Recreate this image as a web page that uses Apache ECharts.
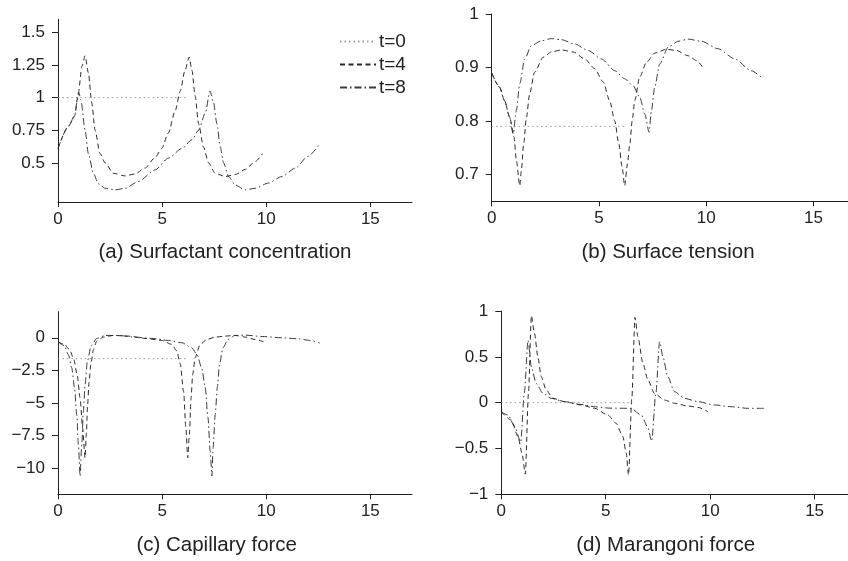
<!DOCTYPE html>
<html>
<head>
<meta charset="utf-8">
<script src="https://cdn.jsdelivr.net/npm/echarts@6/dist/echarts.min.js"></script>
<style>
  html, body { margin: 0; padding: 0; background: #fff; }
  #chart { width: 848px; height: 561px; }
</style>
</head>
<body>
<div id="chart"></div>
<script>
// Series names (time levels)
const seriesNames = ['t=0', 't=4', 't=8'];

// (a) Surfactant concentration  [x, value]
const concT0 = [[0, 1], [6.28, 1]];
const concT4 = [[0,0.61],[0.5,0.78],[0.8,0.86],[0.98,1.04],[1.15,1.24],[1.3,1.32],[1.46,1.19],[1.62,0.96],[1.78,0.75],[2.02,0.57],[2.26,0.5],[2.66,0.42],[3.22,0.4],[3.7,0.415],[4.18,0.46],[4.66,0.54],[4.98,0.61],[5.3,0.73],[5.63,0.9],[5.87,1.05],[6.1,1.21],[6.3,1.31],[6.43,1.21],[6.59,1.01],[6.75,0.8],[6.99,0.62],[7.23,0.5],[7.55,0.42],[8.03,0.395],[8.5,0.41],[9.0,0.45],[9.47,0.51],[9.82,0.57]];
const concT8 = [[0,0.61],[0.5,0.78],[0.8,0.86],[0.92,0.97],[1.0,1.04],[1.1,0.98],[1.3,0.75],[1.46,0.57],[1.7,0.42],[1.94,0.34],[2.26,0.305],[2.74,0.293],[3.22,0.305],[3.86,0.357],[4.66,0.446],[5.3,0.536],[5.95,0.61],[6.43,0.676],[6.75,0.75],[7.07,0.88],[7.3,1.05],[7.47,0.96],[7.63,0.8],[7.79,0.625],[7.95,0.5],[8.19,0.395],[8.51,0.33],[8.99,0.293],[9.47,0.305],[10.1,0.345],[10.75,0.395],[11.4,0.46],[12.0,0.55],[12.57,0.645]];

// (b) Surface tension
const tensT0 = [[0, 0.79], [6.28, 0.79]];
const tensT4 = [[0,0.89],[0.37,0.863],[0.6,0.838],[0.84,0.807],[1.04,0.77],[1.15,0.726],[1.31,0.679],[1.38,0.707],[1.49,0.757],[1.62,0.807],[1.77,0.851],[2.0,0.891],[2.4,0.919],[2.78,0.929],[3.25,0.933],[3.8,0.929],[4.34,0.916],[4.8,0.898],[5.2,0.873],[5.5,0.838],[5.74,0.8],[5.93,0.757],[6.08,0.714],[6.2,0.679],[6.33,0.72],[6.44,0.757],[6.55,0.8],[6.67,0.838],[6.9,0.882],[7.22,0.91],[7.6,0.927],[8.15,0.934],[8.6,0.932],[9.16,0.922],[9.55,0.913],[9.86,0.899]];
const tensT8 = [[0,0.89],[0.37,0.863],[0.6,0.838],[0.84,0.807],[1.0,0.776],[1.15,0.82],[1.31,0.87],[1.54,0.916],[1.85,0.941],[2.32,0.95],[2.78,0.954],[3.25,0.952],[3.87,0.944],[4.49,0.932],[5.12,0.916],[5.74,0.894],[6.2,0.879],[6.59,0.866],[6.9,0.845],[7.14,0.813],[7.34,0.779],[7.45,0.82],[7.6,0.863],[7.84,0.907],[8.23,0.938],[8.69,0.949],[9.16,0.953],[9.78,0.949],[10.56,0.935],[11.34,0.916],[12.1,0.894],[12.57,0.882]];

// (c) Capillary force
const capT0 = [[0, -1.6], [6.28, -1.6]];
const capT4 = [[0,-0.3],[0.3,-0.5],[0.55,-0.9],[0.75,-1.6],[0.92,-2.8],[1.06,-4.6],[1.18,-6.9],[1.3,-9.2],[1.36,-7.4],[1.42,-5.2],[1.49,-3.4],[1.58,-2.0],[1.7,-0.9],[1.86,-0.26],[2.18,0.05],[2.66,0.18],[3.38,0.13],[4.18,-0.05],[4.98,-0.2],[5.46,-0.5],[5.7,-1.0],[5.87,-2.0],[6.03,-4.1],[6.14,-6.9],[6.23,-9.2],[6.31,-7.4],[6.39,-4.6],[6.47,-2.8],[6.59,-1.5],[6.83,-0.5],[7.15,-0.13],[7.55,0.05],[8.03,0.13],[8.5,0.18],[9.0,0.05],[9.47,-0.13],[9.87,-0.3]];
const capT8 = [[0,-0.3],[0.3,-0.6],[0.5,-1.3],[0.66,-2.3],[0.79,-3.8],[0.9,-5.9],[0.98,-8.2],[1.06,-10.6],[1.14,-8.2],[1.22,-5.6],[1.3,-3.6],[1.41,-1.8],[1.59,-0.64],[1.86,-0.05],[2.26,0.18],[2.9,0.18],[3.7,0.05],[4.5,-0.05],[5.3,-0.2],[5.95,-0.38],[6.43,-0.77],[6.67,-1.28],[6.9,-2.3],[7.07,-3.8],[7.2,-6.1],[7.31,-8.7],[7.39,-10.6],[7.45,-8.4],[7.55,-5.9],[7.65,-3.8],[7.76,-2.0],[7.92,-0.77],[8.16,-0.13],[8.5,0.18],[9.0,0.2],[9.8,0.1],[10.75,0],[11.55,-0.08],[12.1,-0.2],[12.57,-0.4]];

// (d) Marangoni force
const marT0 = [[0, 0], [6.28, 0]];
const marT4 = [[0,-0.1],[0.48,-0.19],[0.8,-0.37],[0.99,-0.55],[1.15,-0.78],[1.3,0.1],[1.44,0.95],[1.59,0.756],[1.75,0.5],[1.91,0.284],[2.15,0.138],[2.47,0.047],[3.03,0.011],[3.83,-0.025],[4.47,-0.062],[5.1,-0.135],[5.5,-0.225],[5.82,-0.37],[5.98,-0.55],[6.09,-0.79],[6.25,0.05],[6.4,0.93],[6.54,0.72],[6.78,0.43],[7.02,0.247],[7.34,0.1],[7.81,0.029],[8.29,-0.007],[8.93,-0.036],[9.41,-0.051],[9.9,-0.1]];
const marT8 = [[0,-0.1],[0.32,-0.135],[0.64,-0.26],[0.93,-0.43],[1.1,0.1],[1.28,0.68],[1.44,0.39],[1.67,0.21],[2.0,0.1],[2.39,0.047],[3.03,0.011],[3.8,-0.02],[4.5,-0.045],[5.2,-0.06],[6.2,-0.062],[6.7,-0.135],[7.0,-0.26],[7.2,-0.42],[7.4,0.1],[7.58,0.665],[7.74,0.5],[7.97,0.284],[8.29,0.12],[8.77,0.047],[9.41,0.011],[10.2,-0.025],[11.0,-0.044],[11.8,-0.062],[12.57,-0.062]];

// Tick positions
const xTicks = [0, 5, 10, 15];
const concTicks = [0.5, 0.75, 1, 1.25, 1.5];
const tensTicks = [0.7, 0.8, 0.9, 1];
const capTicks = [-10, -7.5, -5, -2.5, 0];
const marTicks = [-1, -0.5, 0, 0.5, 1];

// Panel captions
const captions = ['(a) Surfactant concentration', '(b) Surface tension', '(c) Capillary force', '(d) Marangoni force'];

const FONT = '"Liberation Sans", Arial, Helvetica, sans-serif';
const INK = '#222';

const lineStyles = [
  { color: '#9a9a9a', width: 1, type: [1.5, 3] },
  { color: '#2a2a2a', width: 1, type: [5, 3.5] },
  { color: '#3a3a3a', width: 1, type: [7, 3, 1.5, 3] }
];

const grids = [
  { left: 58, top: 19.3, width: 354, height: 182.7 },
  { left: 491.7, top: 14, width: 356, height: 187.3 },
  { left: 58, top: 311.7, width: 354, height: 182.6 },
  { left: 501.3, top: 311, width: 346.7, height: 183.3 }
];

const yRanges = [
  { min: 0.2, max: 1.6, ticks: concTicks },
  { min: 0.65, max: 1.0, ticks: tensTicks },
  { min: -12, max: 2, ticks: capTicks },
  { min: -1, max: 1, ticks: marTicks }
];
const xMax = [17, 16.6, 17, 16.6];

const panelData = [
  [concT0, concT4, concT8],
  [tensT0, tensT4, tensT8],
  [capT0, capT4, capT8],
  [marT0, marT4, marT8]
];

const fmt = v => String(v).replace('-', '\u2212');

const lineAxis = { show: true, onZero: false, lineStyle: { color: INK, width: 1 } };
const tickBase = { show: true, inside: false, lineStyle: { color: INK, width: 1 } };
const labelBase = { color: INK, fontSize: 17, fontFamily: FONT, formatter: fmt };

const xAxes = grids.map((g, i) => ({
  type: 'value', gridIndex: i, min: 0, max: xMax[i],
  axisLine: lineAxis,
  axisTick: Object.assign({}, tickBase, { length: 5, customValues: xTicks }),
  splitLine: { show: false },
  axisLabel: Object.assign({}, labelBase, { margin: 9, customValues: xTicks })
}));

const yAxes = grids.map((g, i) => ({
  type: 'value', gridIndex: i, min: yRanges[i].min, max: yRanges[i].max,
  axisLine: lineAxis,
  axisTick: Object.assign({}, tickBase, { length: 6, customValues: yRanges[i].ticks }),
  splitLine: { show: false },
  axisLabel: Object.assign({}, labelBase, { margin: 13, customValues: yRanges[i].ticks })
}));

const series = [];
panelData.forEach((sets, i) => {
  sets.forEach((d, k) => {
    series.push({
      type: 'line', name: seriesNames[k], xAxisIndex: i, yAxisIndex: i,
      data: d, symbol: 'none', showSymbol: false, smooth: 0.25, smoothMonotone: 'x',
      lineStyle: lineStyles[k], color: lineStyles[k].color,
      animation: false, z: 3 - k
    });
  });
});

const captionPos = [[225, 252.5], [668, 252], [216.7, 545], [665.7, 545]];
const graphic = captions.map((c, i) => ({
  type: 'text', x: captionPos[i][0], y: captionPos[i][1],
  style: { text: c, fill: INK, fontSize: 20.5, fontFamily: FONT, align: 'center', verticalAlign: 'middle' }
}));

const chart = echarts.init(document.getElementById('chart'), null, { renderer: 'canvas' });
chart.setOption({
  backgroundColor: '#fff',
  animation: false,
  grid: grids,
  xAxis: xAxes,
  yAxis: yAxes,
  series: series,
  graphic: graphic,
  legend: {
    data: seriesNames,
    orient: 'vertical',
    left: 334, top: 27,
    itemWidth: 36, itemHeight: 10, itemGap: 4,
    itemStyle: { opacity: 0 },
    textStyle: { color: INK, fontSize: 19, fontFamily: FONT, padding: [0, 0, 0, -2] },
    selectedMode: false
  }
});
</script>
</body>
</html>
